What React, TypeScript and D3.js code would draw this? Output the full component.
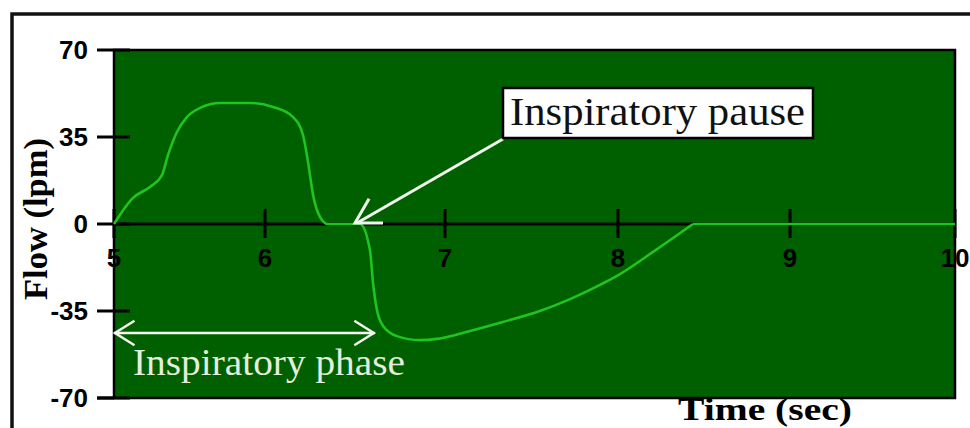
import React from "react";
import * as d3 from "d3";

// ---- data ----
const xTicks = [5, 6, 7, 8, 9, 10];
const yTicks = [70, 35, 0, -35, -70];
const flowTime = [
  5.0, 5.126, 5.238, 5.318, 5.358, 5.417, 5.483, 5.57, 5.702, 5.901, 6.044, 6.156,
  6.211, 6.239, 6.267, 6.306, 6.35, 6.528, 6.583, 6.6, 6.622, 6.656, 6.733, 6.861,
  6.956, 7.145, 7.335, 7.532, 7.723, 7.896, 7.994, 8.227, 8.436, 10.0,
];
const flowValue = [
  0, 10.5, 14.9, 19.7, 27.8, 37.0, 43.0, 46.7, 48.7, 48.7, 47.1, 43.0,
  35.8, 24.9, 11.7, 2.8, 0, 0, -10.5, -23.7, -34.6, -41.0, -45.1, -46.7,
  -46.2, -43.0, -39.4, -35.4, -30.2, -24.5, -20.9, -10.1, 0, 0,
];
const pauseLabel = "Inspiratory pause";
const phaseLabel = "Inspiratory phase";
const pauseTime = 6.5;
const phaseStart = 5;
const phaseEnd = 6.61;
const yLabel = "Flow (lpm)";
const xLabel = "Time (sec)";

// ---- layout ----
const W = 970;
const H = 428;
const left = 114;
const right = 955;
const top = 50;
const bottom = 398;
// tick positions in the (hand-drawn) original are uneven
const xTickPx = [114, 265, 445, 618, 790, 955];

const BG = "#006000";
const LINE = "#1fc41f";
const WHITE = "#f2f5ee";

function arrowHead(tx: number, ty: number, fx: number, fy: number, len: number, half: number) {
  const a = Math.atan2(fy - ty, fx - tx);
  const p1 = [tx + len * Math.cos(a - half), ty + len * Math.sin(a - half)];
  const p2 = [tx + len * Math.cos(a + half), ty + len * Math.sin(a + half)];
  return `M${p1[0]},${p1[1]}L${tx},${ty}L${p2[0]},${p2[1]}`;
}

export default function App() {
  const x = d3.scaleLinear().domain(xTicks).range(xTickPx);
  const y = d3.scaleLinear().domain([-70, 70]).range([bottom, top]);
  const pts: [number, number][] = flowTime.map((t, i) => [t, flowValue[i]]);
  // smooth breathing part, then a straight flat tail after expiration ends
  const tailStart = pts.length - 2;
  const smoothPts = pts.slice(0, tailStart + 1);
  const tailPts = pts.slice(tailStart);
  const smooth = d3
    .line<[number, number]>()
    .x((d) => x(d[0]))
    .y((d) => y(d[1]))
    .curve(d3.curveMonotoneX);
  const straight = d3
    .line<[number, number]>()
    .x((d) => x(d[0]))
    .y((d) => y(d[1]));

  const y0 = y(0);
  const pauseX = x(pauseTime);
  const boxX = 503, boxY = 88, boxW = 310, boxH = 50;
  const phaseY = 333;
  const pxs = x(phaseStart), pxe = x(phaseEnd);

  return (
    <svg
      width={W}
      height={H}
      style={{ position: "absolute", left: 0, top: 0, background: "#fff" }}
    >
      {/* outer frame */}
      <path d={`M12,${H}L12,14L${W},14`} fill="none" stroke="#111" strokeWidth={3.5} />

      {/* plot area */}
      <rect x={left} y={top} width={right - left} height={bottom - top} fill={BG} />

      {/* y ticks */}
      {yTicks.map((v) => (
        <line key={"yt" + v} x1={97} x2={130} y1={y(v)} y2={y(v)} stroke="#000" strokeWidth={3} />
      ))}
      {yTicks.map((v) => (
        <text
          key={"yl" + v}
          x={88}
          y={y(v)}
          textAnchor="end"
          dominantBaseline="central"
          fontFamily="Liberation Sans, Arial, sans-serif"
          fontWeight="bold"
          fontSize={26}
          fill="#000"
        >
          {v}
        </text>
      ))}

      {/* x axis */}
      <line x1={left} x2={right} y1={y0} y2={y0} stroke="#000" strokeWidth={3} />
      {xTicks.map((t) => (
        <line key={"xt" + t} x1={x(t)} x2={x(t)} y1={y0 - 15} y2={y0 + 14} stroke="#000" strokeWidth={3} />
      ))}

      {/* plot border */}
      <path
        d={`M${left},${top}L${right},${top}L${right},${bottom}L${left},${bottom}Z`}
        fill="none"
        stroke="#000"
        strokeWidth={2.5}
      />
      <line x1={97} x2={left} y1={bottom} y2={bottom} stroke="#000" strokeWidth={3} />

      {xTicks.map((t) => (
        <text
          key={"xl" + t}
          x={x(t)}
          y={267}
          textAnchor="middle"
          fontFamily="Liberation Sans, Arial, sans-serif"
          fontWeight="bold"
          fontSize={26}
          fill="#000"
        >
          {t}
        </text>
      ))}

      {/* flow curve */}
      <path d={smooth(smoothPts) || ""} fill="none" stroke={LINE} strokeWidth={2.6} strokeLinejoin="round" />
      <path d={straight(tailPts) || ""} fill="none" stroke={LINE} strokeWidth={2.6} />

      {/* inspiratory pause annotation */}
      <line x1={boxX} y1={boxY + boxH + 1} x2={pauseX + 2} y2={y0 - 1} stroke={WHITE} strokeWidth={3} />
      <path
        d={arrowHead(pauseX, y0 - 1, boxX, boxY + boxH, 28, Math.PI / 6)}
        fill="none"
        stroke={WHITE}
        strokeWidth={3}
      />
      <rect x={boxX} y={boxY} width={boxW} height={boxH} fill="#fff" stroke="#000" strokeWidth={2.5} />
      <text
        x={boxX + 7}
        y={boxY + 37}
        fontFamily="Liberation Serif, Times New Roman, serif"
        fontSize={41}
        textLength={295}
        lengthAdjust="spacingAndGlyphs"
        fill="#111"
      >
        {pauseLabel}
      </text>

      {/* inspiratory phase annotation */}
      <line x1={pxs} x2={pxe} y1={phaseY} y2={phaseY} stroke={WHITE} strokeWidth={2.5} />
      <path d={arrowHead(pxs + 1, phaseY, pxe, phaseY, 23, 0.56)} fill="none" stroke={WHITE} strokeWidth={2.5} />
      <path d={arrowHead(pxe - 1, phaseY, pxs, phaseY, 23, 0.56)} fill="none" stroke={WHITE} strokeWidth={2.5} />
      <text
        x={133}
        y={375}
        fontFamily="Liberation Serif, Times New Roman, serif"
        fontSize={38}
        textLength={272}
        lengthAdjust="spacingAndGlyphs"
        fill="#e4eedc"
      >
        {phaseLabel}
      </text>

      {/* axis titles */}
      <text
        transform={`translate(47,219) rotate(-90)`}
        textAnchor="middle"
        fontFamily="Liberation Serif, Times New Roman, serif"
        fontWeight="bold"
        fontSize={33}
        textLength={162}
        lengthAdjust="spacingAndGlyphs"
        fill="#000"
      >
        {yLabel}
      </text>
      <text
        x={765}
        y={420}
        textAnchor="middle"
        fontFamily="Liberation Serif, Times New Roman, serif"
        fontWeight="bold"
        fontSize={32}
        textLength={174}
        lengthAdjust="spacingAndGlyphs"
        fill="#000"
      >
        {xLabel}
      </text>
    </svg>
  );
}
